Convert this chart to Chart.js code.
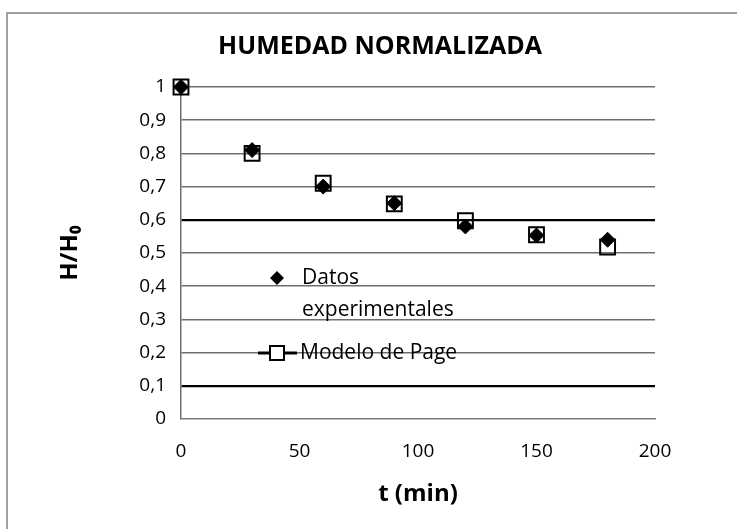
<!DOCTYPE html>
<html>
<head>
<meta charset="utf-8">
<script src="https://cdn.jsdelivr.net/npm/chart.js@4/dist/chart.umd.min.js"></script>
<style>
html,body{margin:0;padding:0;background:#fff;}
#wrap{width:737px;height:529px;position:relative;}
</style>
</head>
<body>
<div id="wrap"><canvas id="c" width="737" height="529"></canvas></div>
<script>
// ---- data ----
const chartTitle = "HUMEDAD NORMALIZADA";
const xTitle = "t (min)";
const yTitle = "H/H\u2080";
const times = [0, 30, 60, 90, 120, 150, 180];
const datosExperimentales = [1.0, 0.81, 0.70, 0.65, 0.58, 0.553, 0.54];
const modeloPage = [1.0, 0.80, 0.71, 0.648, 0.597, 0.555, 0.518];
const seriesNames = ["Datos experimentales", "Modelo de Page"];
const legendLines = [["Datos", "experimentales"], ["Modelo de Page"]];

const FONT = "'Open Sans', 'Liberation Sans', sans-serif";

function toPoints(xs, ys) { return xs.map((x, i) => ({ x: x, y: ys[i] })); }

const framePlugin = {
  id: 'frame',
  beforeDraw(chart) {
    const ctx = chart.ctx;
    ctx.save();
    ctx.fillStyle = '#fff';
    ctx.fillRect(0, 0, chart.width, chart.height);
    ctx.strokeStyle = '#808080';
    ctx.lineWidth = 1.5;
    ctx.beginPath();
    ctx.moveTo(7, chart.height);
    ctx.lineTo(7, 13);
    ctx.lineTo(chart.width, 13);
    ctx.stroke();
    // chart title
    ctx.fillStyle = '#000';
    ctx.font = "bold 25px " + FONT;
    ctx.textAlign = 'center';
    ctx.textBaseline = 'middle';
    ctx.fillText(chartTitle, 380, 47);
    ctx.restore();
  }
};

const legendPlugin = {
  id: 'innerLegend',
  afterDatasetsDraw(chart) {
    const ctx = chart.ctx;
    ctx.save();
    ctx.font = "21px " + FONT;
    ctx.fillStyle = '#000';
    ctx.textBaseline = 'middle';
    ctx.textAlign = 'left';
    // series 1: diamond
    const dx = 277, dy = 278, r = 7;
    ctx.beginPath();
    ctx.moveTo(dx, dy - r); ctx.lineTo(dx + r, dy); ctx.lineTo(dx, dy + r); ctx.lineTo(dx - r, dy);
    ctx.closePath(); ctx.fill();
    ctx.fillText(legendLines[0][0], 302, 278);
    ctx.fillText(legendLines[0][1], 302, 310);
    // series 2: line + square
    ctx.strokeStyle = '#000';
    ctx.lineWidth = 3;
    ctx.beginPath(); ctx.moveTo(258, 353); ctx.lineTo(297, 353); ctx.stroke();
    ctx.fillStyle = '#fff';
    ctx.fillRect(270, 346, 14, 14);
    ctx.lineWidth = 2;
    ctx.strokeRect(270, 346, 14, 14);
    ctx.fillStyle = '#000';
    ctx.fillText(legendLines[1][0], 300, 353);
    ctx.restore();
  }
};

new Chart(document.getElementById('c'), {
  type: 'scatter',
  data: {
    datasets: [
      {
        label: seriesNames[0],
        data: toPoints(times, datosExperimentales),
        pointStyle: 'rectRot',
        pointRadius: 7.5,
        pointHoverRadius: 7.5,
        backgroundColor: '#000',
        borderColor: '#000',
        borderWidth: 1,
        showLine: false,
        clip: false
      },
      {
        label: seriesNames[1],
        data: toPoints(times, modeloPage),
        pointStyle: 'rect',
        pointRadius: 10.5,
        pointHoverRadius: 10.5,
        backgroundColor: 'rgba(0,0,0,0)',
        borderColor: '#000',
        borderWidth: 2,
        showLine: false,
        clip: false
      }
    ]
  },
  options: {
    responsive: false,
    animation: false,
    events: [],
    layout: { padding: { left: 0, right: 82, top: 87, bottom: 0 } },
    plugins: {
      legend: { display: false },
      tooltip: { enabled: false },
      title: { display: false }
    },
    scales: {
      x: {
        type: 'linear',
        min: 0, max: 200,
        ticks: { stepSize: 50, color: '#000', font: { family: FONT, size: 19 }, padding: 21 },
        grid: { display: false, drawTicks: false },
        border: { display: true, color: '#7a7a7a', width: 1.5 },
        title: { display: true, text: xTitle, color: '#000', font: { family: FONT, size: 24, weight: 'bold' }, padding: { top: 0, bottom: 20 } },
        afterFit(scale) { scale.height = 110; }
      },
      y: {
        min: 0, max: 1,
        ticks: {
          stepSize: 0.1, color: '#000', font: { family: FONT, size: 19 }, padding: 15,
          callback: (v) => (Math.abs(v) < 1e-9 ? '0' : Math.abs(v - 1) < 1e-9 ? '1' : v.toFixed(1).replace('.', ','))
        },
        grid: {
          drawTicks: false,
          color: (c) => { const v = c.tick ? Math.round(c.tick.value * 10) : -1; return (v === 1 || v === 6) ? '#000' : '#6e6e6e'; },
          lineWidth: (c) => { const v = c.tick ? Math.round(c.tick.value * 10) : -1; return v === 0 ? 0 : ((v === 1 || v === 6) ? 2.2 : 1.5); }
        },
        border: { display: true, color: '#6e6e6e', width: 1.5 },
        title: { display: true, text: yTitle, color: '#000', font: { family: FONT, size: 24, weight: 'bold' }, padding: { top: 56, bottom: 0 } },
        afterFit(scale) { scale.width = 181; }
      }
    }
  },
  plugins: [framePlugin, legendPlugin]
});
</script>
</body>
</html>
